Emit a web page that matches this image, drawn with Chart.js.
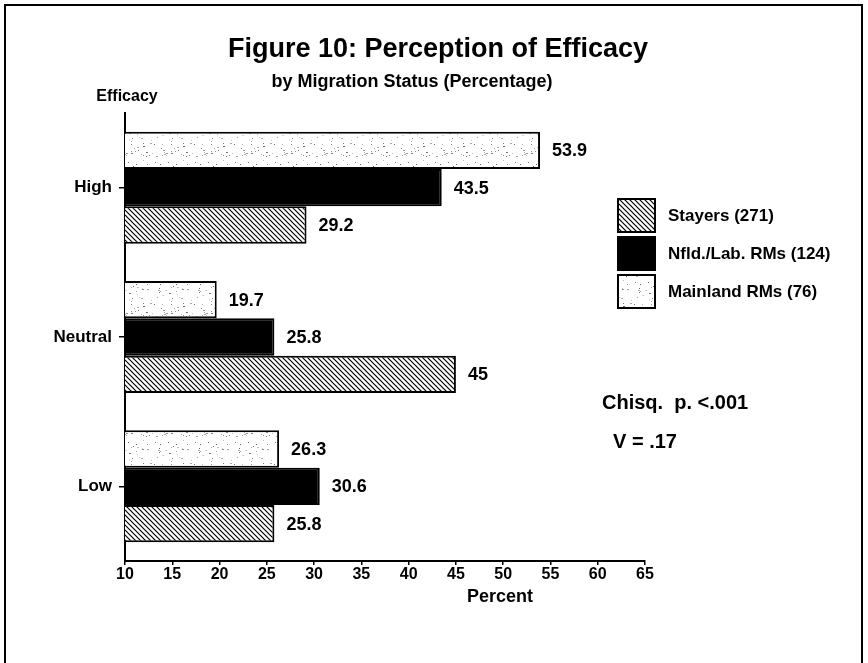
<!DOCTYPE html>
<html>
<head>
<meta charset="utf-8">
<script src="https://cdn.jsdelivr.net/npm/chart.js@4"></script>
<style>
  html, body { margin: 0; padding: 0; background: #fff; }
  #wrap { position: relative; width: 868px; height: 663px; }
</style>
</head>
<body>
<div id="wrap"><canvas id="fig10" width="868" height="663"></canvas></div>
<script>
// values
const categories = ["High", "Neutral", "Low"];
const stayers = [29.2, 45, 25.8];
const nfldLab = [43.5, 25.8, 30.6];
const mainland = [53.9, 19.7, 26.3];
const seriesNames = ["Mainland RMs (76)", "Nfld./Lab. RMs (124)", "Stayers (271)"];
const xMin = 10;
const xMax = 65;
const xStep = 5;
const titleText = "Figure 10: Perception of Efficacy";
const subtitleText = "by Migration Status (Percentage)";
const yAxisName = "Efficacy";
const xAxisName = "Percent";
const noteLines = ["Chisq.  p. <.001", "V = .17"];

const FONT = "'Liberation Sans', Arial, Helvetica, sans-serif";
Chart.defaults.font.family = FONT;
Chart.defaults.color = "#000";

const canvas = document.getElementById("fig10");
const ctx = canvas.getContext("2d");

function hatchPattern() {
  const s = 5;
  const c = document.createElement("canvas");
  c.width = s; c.height = s;
  const g = c.getContext("2d");
  g.fillStyle = "#fff";
  g.fillRect(0, 0, s, s);
  g.strokeStyle = "#000";
  g.lineWidth = 1.2;
  g.beginPath();
  g.moveTo(-1, -1); g.lineTo(s + 1, s + 1);
  g.moveTo(-1, s - 1); g.lineTo(1, s + 1);
  g.moveTo(s - 1, -1); g.lineTo(s + 1, 1);
  g.stroke();
  return ctx.createPattern(c, "repeat");
}

// light speckle texture, fixed seed so it is the same every run
function specklePattern() {
  const s = 40;
  const c = document.createElement("canvas");
  c.width = s; c.height = s;
  const g = c.getContext("2d");
  g.fillStyle = "#fff";
  g.fillRect(0, 0, s, s);
  let seed = 7;
  const next = () => { seed = (seed * 1103515245 + 12345) % 2147483648; return seed / 2147483648; };
  for (let i = 0; i < 55; i++) {
    const shade = 100 + Math.floor(next() * 110);
    g.fillStyle = "rgb(" + shade + "," + shade + "," + shade + ")";
    g.fillRect(Math.floor(next() * s), Math.floor(next() * s), next() < 0.3 ? 2 : 1, 1);
  }
  return ctx.createPattern(c, "repeat");
}

const fills = [specklePattern(), "#000", hatchPattern()];

const decorations = {
  id: "decorations",
  afterDraw(chart) {
    const c = chart.ctx;
    c.save();

    // frame: left, top and right edges only
    c.strokeStyle = "#000";
    c.lineWidth = 2;
    c.beginPath();
    c.moveTo(5, 663); c.lineTo(5, 5); c.lineTo(862, 5); c.lineTo(862, 663);
    c.stroke();

    c.fillStyle = "#000";
    c.textBaseline = "middle";

    c.textAlign = "center";
    c.font = "bold 27px " + FONT;
    c.fillText(titleText, 438, 50);
    c.font = "bold 18px " + FONT;
    c.fillText(subtitleText, 412, 82);
    c.font = "bold 16px " + FONT;
    c.fillText(yAxisName, 127, 97);
    c.font = "bold 18px " + FONT;
    c.fillText(xAxisName, 500, 597);

    // value labels at bar ends
    c.textAlign = "left";
    c.font = "bold 18px " + FONT;
    chart.data.datasets.forEach((ds, i) => {
      chart.getDatasetMeta(i).data.forEach((bar, j) => {
        c.fillText(String(ds.data[j]), bar.x + 12, bar.y + 1);
      });
    });

    // legend, listed bottom series first
    const items = chart.data.datasets.slice().reverse();
    c.font = "bold 17px " + FONT;
    items.forEach((ds, k) => {
      const top = 199 + k * 38;
      c.fillStyle = ds.backgroundColor;
      c.fillRect(618, top, 37, 33);
      c.strokeStyle = "#000";
      c.lineWidth = 2;
      c.strokeRect(618, top, 37, 33);
      c.fillStyle = "#000";
      c.fillText(ds.label, 668, top + 17);
    });

    c.font = "bold 20px " + FONT;
    c.fillText(noteLines[0], 602, 403);
    c.fillText(noteLines[1], 613, 442);

    c.restore();
  }
};

const seriesValues = [mainland, nfldLab, stayers];

new Chart(canvas, {
  type: "bar",
  data: {
    labels: categories,
    datasets: seriesValues.map((vals, i) => ({
      label: seriesNames[i],
      data: vals,
      backgroundColor: fills[i],
      borderColor: "#000",
      borderWidth: 2,
      borderSkipped: false,
      categoryPercentage: 0.75,
      barPercentage: 1.0,
    })),
  },
  options: {
    indexAxis: "y",
    responsive: false,
    animation: false,
    layout: { padding: { left: 0, top: 113, right: 223, bottom: 0 } },
    plugins: {
      legend: { display: false },
      title: { display: false },
      tooltip: { enabled: false },
    },
    scales: {
      x: {
        type: "linear",
        min: xMin,
        max: xMax,
        ticks: { stepSize: xStep, padding: 0, color: "#000", font: { size: 16, weight: "bold" } },
        grid: { drawOnChartArea: false, tickLength: 4, color: "#000", lineWidth: 1.5 },
        border: { display: true, color: "#000", width: 2 },
        afterFit(scale) { scale.height = 102; },
      },
      y: {
        type: "category",
        ticks: { padding: 7, color: "#000", font: { size: 17, weight: "bold" } },
        grid: { drawOnChartArea: false, offset: false, tickLength: 6, color: "#000", lineWidth: 1.5 },
        border: { display: true, color: "#000", width: 2 },
        afterFit(scale) { scale.width = 125; },
      },
    },
  },
  plugins: [decorations],
});
</script>
</body>
</html>
